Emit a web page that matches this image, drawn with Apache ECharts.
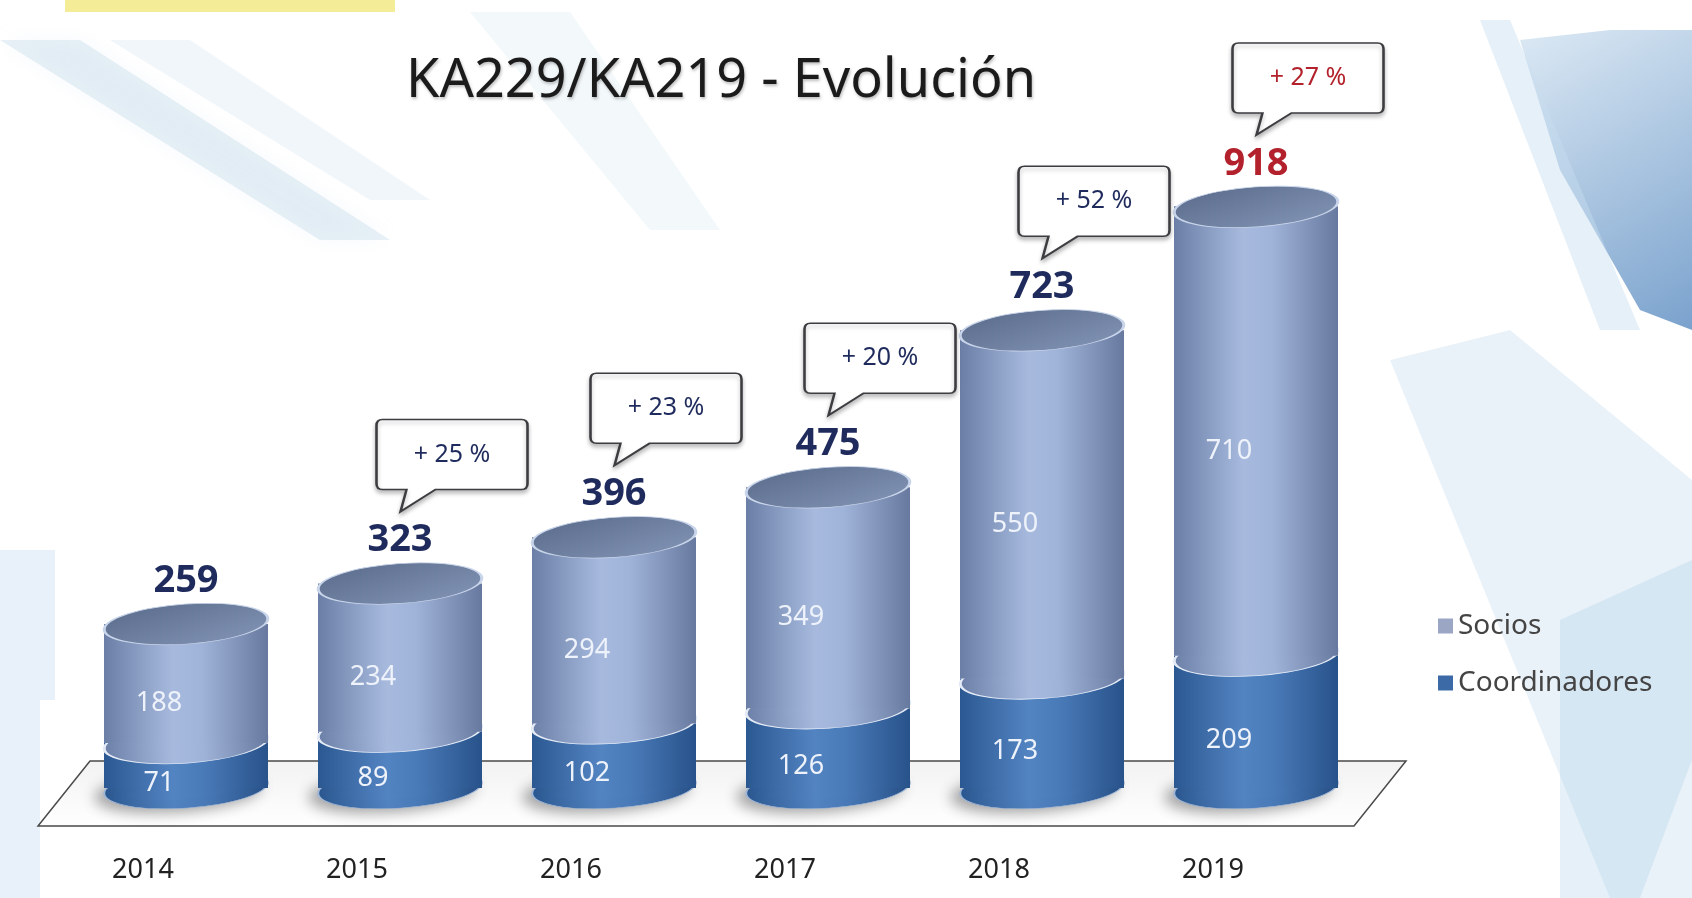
<!DOCTYPE html>
<html>
<head>
<meta charset="utf-8">
<script src="https://cdn.jsdelivr.net/npm/echarts@6/dist/echarts.min.js"></script>
<style>
html,body{margin:0;padding:0;background:#fff;}
#chart{width:1692px;height:898px;}
</style>
</head>
<body>
<div id="chart"></div>
<script>
// ---- data ----
const years = ['2014', '2015', '2016', '2017', '2018', '2019'];
const coordinadores = [71, 89, 102, 126, 173, 209];
const socios = [188, 234, 294, 349, 550, 710];
const totals = [259, 323, 396, 475, 723, 918];
const growth = [null, '+ 25 %', '+ 23 %', '+ 20 %', '+ 52 %', '+ 27 %'];
const titleText = 'KA229/KA219 - Evolución';
const seriesNames = ['Socios', 'Coordinadores'];

// ---- styling ----
const FONT = 'Noto Sans';
const highlightYear = '2019';
const tealYears = ['2018', '2019'];
const BAR_W = 164;
const CAP_H = 40;
const TILT = 4;

function hGrad(stops) {
  return new echarts.graphic.LinearGradient(0, 0, 1, 0, stops.map((c, i) => ({offset: c[0], color: c[1]})));
}
const sociosGrad = () => hGrad([[0, '#6b7ea6'], [0.42, '#a7bade'], [0.6, '#9fb2d8'], [1, '#67799f']]);
const coordGrad = () => hGrad([[0, '#2b5891'], [0.42, '#5384c2'], [0.6, '#4a7bb9'], [1, '#28528a']]);
const capGrad = () => new echarts.graphic.LinearGradient(0, 0, 1, 1, [
  {offset: 0, color: '#5a6b8b'}, {offset: 1, color: '#8395b6'}]);

const bubblePath = 'path://M6 0 H145 Q151 0 151 6 V64 Q151 70 145 70 H59 L24 92 L30 70 H6 Q0 70 0 64 V6 Q0 0 6 0 Z';

const chart = echarts.init(document.getElementById('chart'), null, {renderer: 'canvas'});

const bubbleData = [];
growth.forEach((g, i) => {
  if (g) bubbleData.push({value: [years[i], totals[i]], name: g});
});

const option = {
  animation: false,
  backgroundColor: '#ffffff',
  textStyle: {fontFamily: FONT},
  title: {
    text: titleText,
    left: 716, top: 50, textAlign: 'center',
    textStyle: {fontFamily: FONT, fontSize: 54, fontWeight: 'normal', color: '#1b1b1b',
      textShadowColor: 'rgba(0,0,0,0.25)', textShadowBlur: 3, textShadowOffsetX: 1, textShadowOffsetY: 2}
  },
  legend: {
    orient: 'vertical',
    left: 1433, top: 607,
    itemGap: 29,
    itemWidth: 15, itemHeight: 15,
    icon: 'rect',
    textStyle: {fontFamily: FONT, fontSize: 28, color: '#444'},
    data: [
      {name: seriesNames[0], itemStyle: {color: '#9aa6c4'}},
      {name: seriesNames[1], itemStyle: {color: '#3c6aa6'}}
    ]
  },
  graphic: [
    // slide background decoration
    {type: 'rect', z: -10, shape: {x: 65, y: 0, width: 330, height: 12}, style: {fill: '#f4ec96'}},
    {type: 'polygon', z: -10, shape: {points: [[0, 40], [80, 40], [390, 240], [320, 240]]}, style: {fill: 'rgba(165,198,225,0.25)', shadowBlur: 20, shadowColor: 'rgba(165,198,225,0.4)'}},
    {type: 'polygon', z: -10, shape: {points: [[110, 40], [190, 40], [430, 200], [370, 200]]}, style: {fill: 'rgba(190,215,235,0.22)'}},
    {type: 'polygon', z: -10, shape: {points: [[470, 12], [570, 12], [720, 230], [650, 230]]}, style: {fill: 'rgba(195,218,236,0.2)'}},
    {type: 'polygon', z: -10, shape: {points: [[1520, 40], [1610, 30], [1692, 30], [1692, 330], [1640, 310], [1560, 170]]},
      style: {fill: new echarts.graphic.LinearGradient(0, 0, 1, 1, [{offset: 0, color: '#dce9f4'}, {offset: 1, color: '#7aa2cd'}])}},
    {type: 'polygon', z: -10, shape: {points: [[1480, 20], [1510, 20], [1640, 330], [1600, 330]]}, style: {fill: 'rgba(200,222,240,0.45)'}},
    {type: 'polygon', z: -10, shape: {points: [[1390, 360], [1510, 330], [1692, 480], [1692, 898], [1610, 898]]}, style: {fill: 'rgba(185,212,235,0.3)'}},
    {type: 'polygon', z: -10, shape: {points: [[1560, 620], [1692, 560], [1692, 760], [1640, 898], [1560, 898]]}, style: {fill: 'rgba(170,205,232,0.3)'}},
    {type: 'polygon', z: -10, shape: {points: [[0, 550], [55, 550], [55, 700], [40, 700], [40, 898], [0, 898]]}, style: {fill: 'rgba(180,210,235,0.3)'}},
    // floor plane
    {type: 'polygon', z: -5, shape: {points: [[38, 826], [1354, 826], [1406, 761], [90, 761]]},
      style: {fill: new echarts.graphic.LinearGradient(0, 0, 0, 1, [{offset: 0, color: '#f2f2f2'}, {offset: 1, color: '#ffffff'}]),
        stroke: '#4a4a4a', lineWidth: 1.5}}
  ],
  grid: {left: 79, right: 329, top: 155, bottom: 110, containLabel: false},
  xAxis: {
    type: 'category',
    data: years,
    axisLine: {show: false},
    axisTick: {show: false},
    axisLabel: {fontFamily: FONT, fontSize: 27, color: '#222', margin: 69, padding: [0, 86, 0, 0]}
  },
  yAxis: {type: 'value', min: 0, max: 1000, show: false},
  series: [
    // bottom ellipse of each cylinder
    {
      type: 'scatter', name: 'base', z: 1, silent: true,
      data: years.map(y => [y, 0]),
      symbol: 'circle', symbolSize: [BAR_W, CAP_H], symbolRotate: TILT,
      itemStyle: {color: coordGrad(), opacity: 1, borderColor: '#9fb6d6', borderWidth: 1,
        shadowColor: 'rgba(0,0,0,0.35)', shadowBlur: 14, shadowOffsetX: -8, shadowOffsetY: 4}
    },
    {
      type: 'bar', name: seriesNames[1], stack: 'total', z: 2, barWidth: BAR_W,
      data: coordinadores,
      itemStyle: {color: coordGrad()},
      label: {show: true, position: 'inside', offset: [-27, 18], fontFamily: FONT, fontSize: 27, color: '#eef2fa'}
    },
    // boundary ellipse between the two segments
    {
      type: 'scatter', name: 'joint', z: 3, silent: true,
      data: years.map((y, i) => [y, coordinadores[i]]),
      symbol: 'circle', symbolSize: [BAR_W, CAP_H], symbolRotate: TILT,
      itemStyle: {color: sociosGrad(), opacity: 1, borderColor: '#e4ebf7', borderWidth: 1.5}
    },
    {
      type: 'bar', name: seriesNames[0], stack: 'total', z: 4, barWidth: BAR_W,
      data: socios,
      itemStyle: {color: sociosGrad()},
      label: {show: true, position: 'inside', offset: [-27, 20], fontFamily: FONT, fontSize: 27, color: '#eef2fa'}
    },
    // top cap + total label
    {
      type: 'scatter', name: 'cap', z: 5, silent: true,
      data: years.map((y, i) => [y, totals[i]]),
      symbol: 'circle', symbolSize: [BAR_W, CAP_H], symbolRotate: TILT,
      itemStyle: {color: capGrad(), opacity: 1, borderColor: '#c9d5ea', borderWidth: 1.5},
      label: {
        show: true, position: 'top', distance: -2, rotate: 0,
        fontFamily: FONT, fontSize: 38, fontWeight: 'bold',
        formatter: p => '{' + (p.value[0] === highlightYear ? 'r' : 'n') + '|' + p.value[1] + '}',
        rich: {
          n: {fontFamily: FONT, fontSize: 38, fontWeight: 'bold', color: '#1f2b5c'},
          r: {fontFamily: FONT, fontSize: 38, fontWeight: 'bold', color: '#b3222c'}
        }
      }
    },
    // growth call-out bubbles
    {
      type: 'scatter', name: 'growth', z: 6, silent: true,
      data: bubbleData,
      symbol: bubblePath, symbolSize: [151, 92], symbolOffset: [52, -118],
      itemStyle: {
        color: '#ffffff', opacity: 1, borderWidth: 2,
        borderColor: p => tealYears.includes(p.value[0]) ? '#557787' : '#5a4f9c',
        shadowColor: 'rgba(0,0,0,0.25)', shadowBlur: 4, shadowOffsetY: 3
      },
      label: {
        show: true, position: 'inside', offset: [0, -11],
        formatter: p => '{' + (p.value[0] === highlightYear ? 'r' : 'n') + '|' + p.name + '}',
        rich: {
          n: {fontFamily: FONT, fontSize: 25, color: '#1f2b5c'},
          r: {fontFamily: FONT, fontSize: 25, color: '#b3222c'}
        }
      }
    }
  ]
};
chart.setOption(option);
</script>
</body>
</html>
